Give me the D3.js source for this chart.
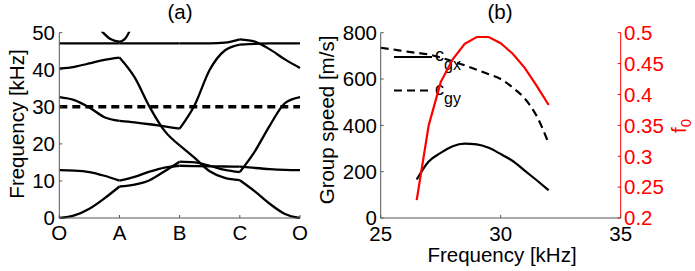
<!DOCTYPE html>
<html>
<head>
<meta charset="utf-8">
<script src="https://cdn.jsdelivr.net/npm/d3@7/dist/d3.min.js"></script>
<style>
  body { margin: 0; background: #fff; }
  svg text { font-family: "Liberation Sans", Arial, sans-serif; }
</style>
</head>
<body>
<div id="chart"></div>
<script>
// ---- panel (a): band structure along O-A-B-C-O ----
var kTicks = [0, 1, 2, 3, 4];
var kLabels = ["O", "A", "B", "C", "O"];
var freqTicksA = [0, 10, 20, 30, 40, 50];
var kGrid = [0, 0.25, 0.5, 0.75, 1, 1.25, 1.5, 1.75, 2, 2.25, 2.5, 2.75, 3, 3.25, 3.5, 3.75, 4];

var band1 = [0, 0.7, 2.5, 5.3, 8.5, 9.0, 10.2, 12.6, 15.2, 15.0, 14.1, 13.0, 12.4, 18.0, 25.0, 31.0, 32.6];
var band2 = [12.9, 12.8, 12.4, 11.4, 10.1, 11.1, 12.5, 13.6, 14.1, 14.0, 13.95, 13.9, 13.85, 13.5, 13.2, 13.0, 12.9];
var band3 = [32.6, 31.8, 29.8, 27.2, 26.2, 25.8, 25.3, 24.7, 24.1, 30.5, 40.0, 45.2, 46.8, 47.0, 47.1, 47.1, 47.1];
var band4 = [40.3, 40.8, 41.7, 42.7, 43.3, 38.0, 30.0, 23.5, 19.6, 16.2, 12.6, 10.8, 10.2, 7.2, 3.8, 1.1, 0];
var band5 = [47.1, 47.1, 47.1, 47.1, 47.1, 47.1, 47.1, 47.1, 47.1, 47.1, 47.1, 47.3, 48.2, 47.6, 45.5, 42.8, 40.5];
var bands = [band1, band2, band3, band4, band5];

var cuspK = [0.7, 0.85, 1.0, 1.1, 1.17];
var cuspF = [50.5, 48.3, 47.6, 48.5, 50.5];

var excitationFreq = 30;

// ---- panel (b): group speed and f0 vs frequency ----
var freqTicksB = [25, 30, 35];
var speedTicks = [0, 200, 400, 600, 800];
var f0Ticks = [0.2, 0.25, 0.3, 0.35, 0.4, 0.45, 0.5];
var f0TickLabels = ["0.2", "0.25", "0.3", "0.35", "0.4", "0.45", "0.5"];

var freqB = [26.5, 27, 27.5, 28, 28.5, 29, 29.5, 30, 30.5, 31, 31.5, 32];
var cgx = [166, 244, 281, 310, 321, 318, 303, 276, 246, 205, 163, 120];
var f0 = [0.229, 0.35, 0.42, 0.457, 0.482, 0.493, 0.493, 0.483, 0.466, 0.443, 0.414, 0.383];

var freqCgy = [25, 25.5, 26, 26.5, 27, 27.5, 28, 28.5, 29, 29.5, 30, 30.5, 31, 31.5, 32];
var cgy = [735, 728, 720, 713, 706, 693, 676, 659, 640, 621, 600, 563, 516, 440, 322];

var width = 695,
    height = 271;

var svg = d3.select("#chart").append("svg")
    .attr("width", width)
    .attr("height", height);

var fontSize = 20.5;
var axisGray = "#555";

// ================= panel (a) =================
var xA = d3.scaleLinear().domain([0, 4]).range([59.3, 300]);
var yA = d3.scaleLinear().domain([0, 50]).range([218, 32.7]);

svg.append("clipPath")
    .attr("id", "clipA")
    .append("rect")
    .attr("x", xA(0))
    .attr("y", yA(50) - 1)
    .attr("width", xA(4) - xA(0) + 2)
    .attr("height", yA(0) - yA(50) + 2);

var gA = svg.append("g");
var plotA = gA.append("g").attr("clip-path", "url(#clipA)");

var lineA = d3.line()
    .x(function(d) { return xA(d[0]); })
    .y(function(d) { return yA(d[1]); })
    .curve(d3.curveMonotoneX);

// draw each band segment by segment so the kinks sit at O, A, B, C
bands.forEach(function(band) {
    for (var s = 0; s < 4; s++) {
        var pts = [];
        for (var i = s * 4; i <= s * 4 + 4; i++) {
            pts.push([kGrid[i], band[i]]);
        }
        plotA.append("path")
            .attr("d", lineA(pts))
            .attr("fill", "none")
            .attr("stroke", "#000")
            .attr("stroke-width", 2.3);
    }
});

plotA.append("path")
    .attr("d", lineA(cuspK.map(function(k, i) { return [k, cuspF[i]]; })))
    .attr("fill", "none")
    .attr("stroke", "#000")
    .attr("stroke-width", 2.3);

// excitation frequency
plotA.append("line")
    .attr("x1", xA(0))
    .attr("x2", xA(4))
    .attr("y1", yA(excitationFreq))
    .attr("y2", yA(excitationFreq))
    .attr("stroke", "#000")
    .attr("stroke-width", 3.5)
    .attr("stroke-dasharray", "8,5");

// axes (a)
gA.append("line")
    .attr("x1", xA(0)).attr("x2", xA(0))
    .attr("y1", yA(50)).attr("y2", yA(0))
    .attr("stroke", axisGray);
gA.append("line")
    .attr("x1", xA(0)).attr("x2", xA(4))
    .attr("y1", yA(0)).attr("y2", yA(0))
    .attr("stroke", axisGray);

gA.selectAll(".ytickA")
    .data(freqTicksA).enter()
    .append("line")
    .attr("x1", xA(0)).attr("x2", xA(0) + 3)
    .attr("y1", function(d) { return yA(d); })
    .attr("y2", function(d) { return yA(d); })
    .attr("stroke", axisGray);

gA.selectAll(".ylabA")
    .data(freqTicksA).enter()
    .append("text")
    .attr("x", 55)
    .attr("y", function(d) { return yA(d); })
    .attr("dy", "0.36em")
    .attr("text-anchor", "end")
    .attr("font-size", fontSize)
    .text(function(d) { return d; });

gA.selectAll(".xtickA")
    .data(kTicks).enter()
    .append("line")
    .attr("x1", function(d) { return xA(d); })
    .attr("x2", function(d) { return xA(d); })
    .attr("y1", yA(0)).attr("y2", yA(0) - 3)
    .attr("stroke", axisGray);

gA.selectAll(".xlabA")
    .data(kTicks).enter()
    .append("text")
    .attr("x", function(d) { return xA(d); })
    .attr("y", 240)
    .attr("text-anchor", "middle")
    .attr("font-size", fontSize)
    .text(function(d, i) { return kLabels[i]; });

gA.append("text")
    .attr("transform", "translate(24,124) rotate(-90)")
    .attr("text-anchor", "middle")
    .attr("font-size", fontSize)
    .text("Frequency [kHz]");

gA.append("text")
    .attr("x", 180)
    .attr("y", 19)
    .attr("text-anchor", "middle")
    .attr("font-size", fontSize)
    .text("(a)");

// ================= panel (b) =================
var xB = d3.scaleLinear().domain([25, 35]).range([380.7, 620.7]);
var yB = d3.scaleLinear().domain([0, 800]).range([218, 32.7]);
var yF = d3.scaleLinear().domain([0.2, 0.5]).range([218, 32.7]);

var gB = svg.append("g");

var lineSpeed = d3.line()
    .x(function(d) { return xB(d[0]); })
    .y(function(d) { return yB(d[1]); })
    .curve(d3.curveMonotoneX);

var lineF0 = d3.line()
    .x(function(d) { return xB(d[0]); })
    .y(function(d) { return yF(d[1]); });

gB.append("path")
    .attr("d", lineSpeed(freqCgy.map(function(f, i) { return [f, cgy[i]]; })))
    .attr("fill", "none")
    .attr("stroke", "#000")
    .attr("stroke-width", 2.2)
    .attr("stroke-dasharray", "8,5");

gB.append("path")
    .attr("d", lineSpeed(freqB.map(function(f, i) { return [f, cgx[i]]; })))
    .attr("fill", "none")
    .attr("stroke", "#000")
    .attr("stroke-width", 2.2);

// legend
var legend = gB.append("g");
var legendRows = [
    { y: 57, dash: null, sub: "gx" },
    { y: 90.5, dash: "8,5", sub: "gy" }
];
legendRows.forEach(function(r) {
    legend.append("line")
        .attr("x1", 394).attr("x2", 432)
        .attr("y1", r.y).attr("y2", r.y)
        .attr("stroke", "#000")
        .attr("stroke-width", 2.2)
        .attr("stroke-dasharray", r.dash);
    var t = legend.append("text")
        .attr("x", 435)
        .attr("y", r.y + 4)
        .attr("font-size", 18);
    t.append("tspan").text("c");
    t.append("tspan")
        .attr("dy", 9)
        .attr("font-size", 16)
        .text(r.sub);
});

gB.append("path")
    .attr("d", lineF0(freqB.map(function(f, i) { return [f, f0[i]]; })))
    .attr("fill", "none")
    .attr("stroke", "#ff0000")
    .attr("stroke-width", 2.2);

// axes (b)
gB.append("line")
    .attr("x1", xB(25)).attr("x2", xB(25))
    .attr("y1", yB(800)).attr("y2", yB(0))
    .attr("stroke", axisGray);
gB.append("line")
    .attr("x1", xB(25)).attr("x2", xB(35))
    .attr("y1", yB(0)).attr("y2", yB(0))
    .attr("stroke", axisGray);
gB.append("line")
    .attr("x1", xB(35)).attr("x2", xB(35))
    .attr("y1", yF(0.5)).attr("y2", yF(0.2))
    .attr("stroke", "#ff0000");

gB.selectAll(".ytickB")
    .data(speedTicks).enter()
    .append("line")
    .attr("x1", xB(25)).attr("x2", xB(25) + 3)
    .attr("y1", function(d) { return yB(d); })
    .attr("y2", function(d) { return yB(d); })
    .attr("stroke", axisGray);

gB.selectAll(".ylabB")
    .data(speedTicks).enter()
    .append("text")
    .attr("x", 377)
    .attr("y", function(d) { return yB(d); })
    .attr("dy", "0.36em")
    .attr("text-anchor", "end")
    .attr("font-size", fontSize)
    .text(function(d) { return d; });

gB.selectAll(".ftick")
    .data(f0Ticks).enter()
    .append("line")
    .attr("x1", xB(35)).attr("x2", xB(35) - 3)
    .attr("y1", function(d) { return yF(d); })
    .attr("y2", function(d) { return yF(d); })
    .attr("stroke", "#ff0000");

gB.selectAll(".flab")
    .data(f0Ticks).enter()
    .append("text")
    .attr("x", 624)
    .attr("y", function(d) { return yF(d); })
    .attr("dy", "0.36em")
    .attr("fill", "#ff0000")
    .attr("font-size", fontSize)
    .text(function(d, i) { return f0TickLabels[i]; });

gB.selectAll(".xtickB")
    .data(freqTicksB).enter()
    .append("line")
    .attr("x1", function(d) { return xB(d); })
    .attr("x2", function(d) { return xB(d); })
    .attr("y1", yB(0)).attr("y2", yB(0) - 3)
    .attr("stroke", axisGray);

gB.selectAll(".xlabB")
    .data(freqTicksB).enter()
    .append("text")
    .attr("x", function(d) { return xB(d); })
    .attr("y", 241)
    .attr("text-anchor", "middle")
    .attr("font-size", fontSize)
    .text(function(d) { return d; });

gB.append("text")
    .attr("x", 502)
    .attr("y", 262)
    .attr("text-anchor", "middle")
    .attr("font-size", fontSize)
    .text("Frequency [kHz]");

gB.append("text")
    .attr("transform", "translate(334,120) rotate(-90)")
    .attr("text-anchor", "middle")
    .attr("font-size", fontSize)
    .text("Group speed [m/s]");

var f0Label = gB.append("text")
    .attr("transform", "translate(686,126) rotate(-90)")
    .attr("text-anchor", "middle")
    .attr("fill", "#ff0000")
    .attr("font-size", fontSize);
f0Label.append("tspan").text("f");
f0Label.append("tspan").attr("dy", 5).attr("font-size", 15).text("0");

gB.append("text")
    .attr("x", 500)
    .attr("y", 19)
    .attr("text-anchor", "middle")
    .attr("font-size", fontSize)
    .text("(b)");
</script>
</body>
</html>
